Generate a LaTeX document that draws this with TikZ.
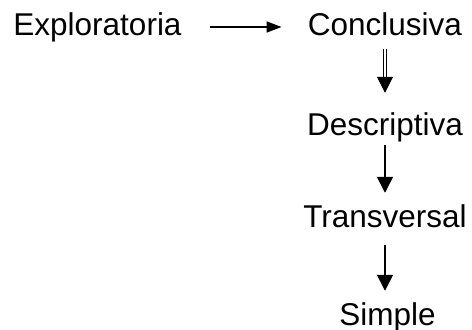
\documentclass[tikz,border=0pt]{standalone}
\usepackage{fontspec}
\setmainfont{Liberation Sans}
\usetikzlibrary{positioning,arrows.meta,calc}
\tikzset{
  term/.style={font=\fontsize{15.75}{18}\selectfont, inner sep=0pt, anchor=base},
  flow/.style={-{Triangle[length=8pt, width=8pt]}, line width=0.8pt, draw=black},
  side/.style={-{Triangle[length=7.5pt, width=5.5pt]}, line width=0.8pt, draw=black},
  twin/.style={flow, line width=0.5pt, double, double distance=1pt},
}
\begin{document}
\begin{tikzpicture}[x=0.5pt, y=-0.5pt]
\useasboundingbox (0,0) rectangle (472,330);

% ---- top row ---------------------------------------------------------------
\node[term] (expl) at (97.5,36) {Exploratoria};
\node[term] (conc) at (385,36) {Conclusiva};

% ---- the chain down from Conclusiva -----------------------------------------
\node[term] (desc) at (385,136) {Descriptiva};
\node[term] (trans) at (385,228) {Transversal};
\node[term] (simp) at (387.5,326) {Simple};

% ---- arrows ----------------------------------------------------------------
\draw[side, shorten <=14pt, shorten >=13pt]
  ([yshift=4.5pt]expl.base east) -- ([yshift=4.5pt]conc.base west);
\draw[twin, shorten <=6pt, shorten >=10pt] (conc.south) -- (desc.north);
\draw[flow, shorten <=1pt, shorten >=6pt] (desc.south) -- (trans.north);
\draw[flow, shorten <=8pt, shorten >=6pt] (trans.south) -- (simp.north -| trans.south);
\end{tikzpicture}
\end{document}
